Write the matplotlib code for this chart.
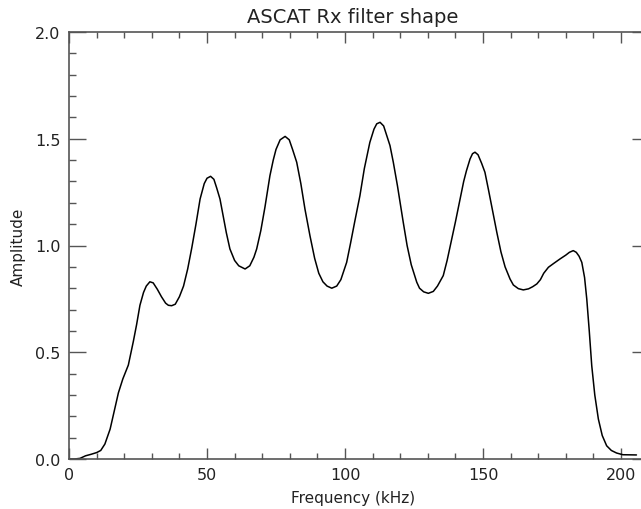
import matplotlib
matplotlib.use("Agg")
import matplotlib.pyplot as plt
from matplotlib.ticker import MultipleLocator, FormatStrFormatter

freq_khz = [0, 2, 4, 6, 8, 10, 11.5, 13, 14.9, 16.5, 17.9, 19.5, 21.5, 23.3, 24.5, 25.7,
            27, 28, 29.3, 30.5, 32, 33.5, 35, 36, 37.2, 38.5, 40, 41.5, 43, 44.5, 46,
            47.5, 49, 50, 51.3, 52.5, 53.5, 54.7, 56, 57, 58.3, 60, 61.5, 63.8, 65.5, 67,
            68, 69.5, 71, 72.8, 74, 75, 76.5, 78.3, 79.8, 81, 82.5, 84, 85.5, 87.3, 89,
            90.5, 92, 93.5, 95.2, 97, 98.5, 100.6, 102, 103.5, 105.4, 107, 109, 110.5,
            111.5, 112.7, 114, 115, 116.3, 117.5, 119, 121.1, 122.5, 124, 126, 127, 128.5,
            130.2, 132, 133.5, 135.6, 137, 138.5, 140, 141.7, 143, 144, 145.3, 146.2,
            147.1, 148.2, 149.5, 150.7, 152, 153.5, 155, 156.5, 158, 159.8, 161, 162.8,
            164.6, 166.5, 168, 169.5, 170.8, 172, 173.7, 175.5, 177.9, 180, 181.3, 182.7,
            183.8, 184.8, 185.8, 186.8, 187.6, 188.5, 189.4, 190.5, 191.8, 193.2, 194.8,
            196.5, 198.4, 200.7, 205.6]
amplitude = [0.0, 0.0, 0.003, 0.015, 0.022, 0.03, 0.04, 0.07, 0.14, 0.23, 0.31, 0.375,
             0.44, 0.55, 0.63, 0.72, 0.78, 0.81, 0.83, 0.825, 0.795, 0.76, 0.73, 0.72,
             0.718, 0.725, 0.76, 0.81, 0.89, 0.99, 1.10, 1.218, 1.29, 1.315, 1.324, 1.31,
             1.27, 1.218, 1.13, 1.06, 0.984, 0.93, 0.905, 0.89, 0.905, 0.945, 0.984, 1.07,
             1.18, 1.327, 1.40, 1.45, 1.495, 1.511, 1.495, 1.45, 1.39, 1.29, 1.17, 1.046,
             0.94, 0.87, 0.83, 0.81, 0.80, 0.81, 0.84, 0.921, 1.01, 1.11, 1.233, 1.36,
             1.483, 1.545, 1.57, 1.577, 1.56, 1.52, 1.468, 1.39, 1.28, 1.109, 1.00, 0.91,
             0.828, 0.80, 0.783, 0.776, 0.785, 0.81, 0.859, 0.93, 1.02, 1.11, 1.218, 1.30,
             1.35, 1.405, 1.43, 1.437, 1.425, 1.385, 1.343, 1.26, 1.16, 1.062, 0.97, 0.90,
             0.843, 0.815, 0.798, 0.792, 0.797, 0.807, 0.82, 0.84, 0.87, 0.898, 0.915,
             0.937, 0.955, 0.968, 0.976, 0.968, 0.95, 0.921, 0.85, 0.749, 0.60, 0.437,
             0.30, 0.187, 0.11, 0.062, 0.04, 0.028, 0.02, 0.019]

title = "ASCAT Rx filter shape"
xlabel = "Frequency (kHz)"
ylabel = "Amplitude"

fig = plt.figure(figsize=(6.41, 5.10), dpi=100)
# the plot frame extends slightly beyond the right edge of the image (as in the reference)
ax = fig.add_axes([69/641, 50/510, (648.6-69)/641, (460-33)/510])
ax.plot(freq_khz, amplitude, color="black", lw=1.1, solid_joinstyle="round",
        solid_capstyle="round")
ax.set_xlim(0, 210)
ax.set_ylim(0, 2.0)

axis_col = "#555555"
for s in ax.spines.values():
    s.set_color(axis_col)
    s.set_linewidth(1.2)

ax.xaxis.set_major_locator(MultipleLocator(50))
ax.xaxis.set_minor_locator(MultipleLocator(10))
ax.yaxis.set_major_locator(MultipleLocator(0.5))
ax.yaxis.set_minor_locator(MultipleLocator(0.1))
ax.yaxis.set_major_formatter(FormatStrFormatter("%.1f"))

ax.tick_params(which="both", direction="in", top=True, right=True, color=axis_col,
               width=1.0, labelsize=11.5, labelcolor="#222222", pad=6)
ax.tick_params(axis="x", which="major", length=8)
ax.tick_params(axis="x", which="minor", length=4)
ax.tick_params(axis="y", which="major", length=12)
ax.tick_params(axis="y", which="minor", length=5)

ax.set_title(title, fontsize=14, color="#222222", pad=7, x=(353-69)/(648.6-69))
ax.set_xlabel(xlabel, fontsize=11, color="#222222")
ax.xaxis.set_label_coords((353-69)/(648.6-69), -0.072)
ax.set_ylabel(ylabel, fontsize=11, color="#222222", labelpad=7)

fig.savefig("out.png", dpi=100)
